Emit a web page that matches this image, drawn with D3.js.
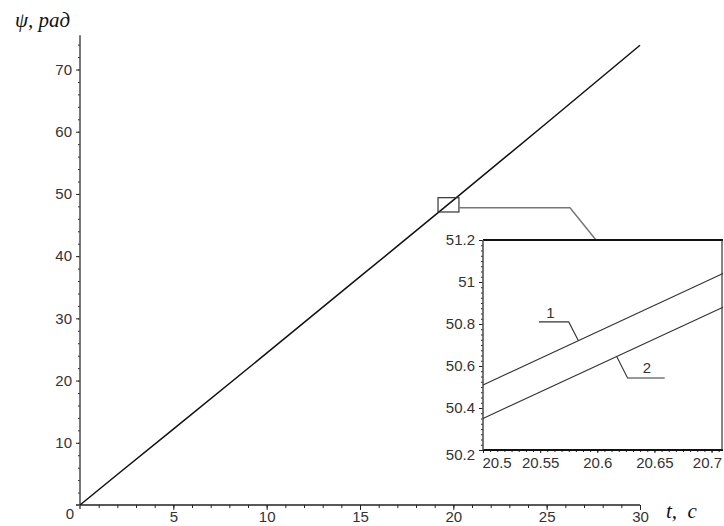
<!DOCTYPE html>
<html lang="en">
<head>
    <meta charset="UTF-8">
    <script src="https://d3js.org/d3.v7.min.js"></script>
    <style>
        body { margin: 0; background: #fff; }
        .tick text, .lbl { font-family: Arial, "Liberation Sans", sans-serif; font-size: 15px; fill: #333; }
        .ttl { font-family: "Liberation Serif", "DejaVu Serif", serif; font-style: italic; font-size: 21px; fill: #111; }
    </style>
</head>
<body>
<div id="chart"></div>
<script>
// main curve psi(t)
var tMain = [0, 2, 5, 10, 15, 17, 20, 25, 30];
var psiMain = [0, 4.9, 12.2, 24.4, 36.7, 41.6, 49.0, 61.4, 73.9];

// zoomed window, curves 1 and 2
var tZoom = [20.5, 20.71];
var psi1 = [50.51, 51.04];
var psi2 = [50.35, 50.88];

var xTicks = [5, 10, 15, 20, 25, 30];
var yTicks = [10, 20, 30, 40, 50, 60, 70];
var zxTicks = [20.5, 20.55, 20.6, 20.65, 20.7];
var zyTicks = [50.2, 50.4, 50.6, 50.8, 51, 51.2];

// marked region on main curve
var boxT = [19.18, 20.3];
var boxPsi = [47.1, 49.4];

var width = 724, height = 526;

var svg = d3.select("#chart").append("svg")
    .attr("width", width)
    .attr("height", height);

var x = d3.scaleLinear().domain([0, 30]).range([80, 640]);
var y = d3.scaleLinear().domain([0, 75.5]).range([505, 35.3]);

// helper: minor + major ticks in separate groups
function ticksOn(g, axisFn, scale, minor, major, minSize, majSize, pad, fmt) {
    g.append("g").call(axisFn(scale).tickValues(minor).tickSize(minSize).tickFormat(""));
    var gM = g.append("g").call(axisFn(scale).tickValues(major).tickSize(majSize).tickPadding(pad).tickFormat(fmt));
    g.selectAll(".domain").remove();
    g.selectAll(".tick line").attr("stroke", "#222");
    return gM;
}

// axes
var xAxis = svg.append("g").attr("transform", "translate(0," + y(0) + ")");
ticksOn(xAxis, d3.axisBottom, x, d3.range(1, 30, 1), xTicks, 3, 5, 1, d3.format("d"));
xAxis.append("line").attr("x1", x(0) - 4).attr("x2", x(30)).attr("stroke", "#222").attr("stroke-width", 1.6);

var yAxis = svg.append("g").attr("transform", "translate(" + x(0) + ",0)");
ticksOn(yAxis, d3.axisLeft, y, d3.range(2, 76, 2), yTicks, 2, 4, 4, d3.format("d"));
yAxis.append("line").attr("y1", y(0) + 4).attr("y2", y(75.5)).attr("stroke", "#555").attr("stroke-width", 1.6);

svg.append("text").attr("class", "lbl")
    .attr("x", x(0) - 6).attr("y", y(0) + 14).attr("text-anchor", "end")
    .text("0");

// main curve
var line = d3.line().x(function (d) { return x(d[0]); }).y(function (d) { return y(d[1]); });
svg.append("path")
    .datum(d3.zip(tMain, psiMain))
    .attr("d", line)
    .attr("fill", "none")
    .attr("stroke", "#111")
    .attr("stroke-width", 1.5);

// box on the curve
svg.append("rect")
    .attr("x", x(boxT[0])).attr("y", y(boxPsi[1]))
    .attr("width", x(boxT[1]) - x(boxT[0]))
    .attr("height", y(boxPsi[0]) - y(boxPsi[1]))
    .attr("fill", "none").attr("stroke", "#333").attr("stroke-width", 1.2);

// inset
var zx = d3.scaleLinear().domain([20.5, 20.71]).range([483, 723]);
var zy = d3.scaleLinear().domain([50.2, 51.2]).range([450, 240]);

// connector
var cy = (y(boxPsi[0]) + y(boxPsi[1])) / 2 + 3;
svg.append("path")
    .attr("d", "M" + x(boxT[1]) + "," + cy + "H570L" + 596 + "," + zy(51.2))
    .attr("fill", "none").attr("stroke", "#777").attr("stroke-width", 1.5);

var inset = svg.append("g");
inset.append("rect")
    .attr("x", zx(20.5)).attr("y", zy(51.2))
    .attr("width", zx(20.71) - zx(20.5)).attr("height", zy(50.2) - zy(51.2))
    .attr("fill", "#fff").attr("stroke", "none");

var fmtZ = function (d) { return d3.format("")(+d.toFixed(2)); };

var zxAxis = inset.append("g").attr("transform", "translate(0," + zy(50.2) + ")");
var zxM = ticksOn(zxAxis, d3.axisBottom, zx, d3.range(20.50625, 20.71, 0.00625), zxTicks, 2, 3, 4, fmtZ);
zxM.selectAll(".tick text").filter(function (d) { return d === 20.5; }).attr("text-anchor", "start").attr("dx", -1);
zxM.selectAll(".tick text").filter(function (d) { return d === 20.7; }).attr("text-anchor", "end").attr("dx", 10);

var zyAxis = inset.append("g").attr("transform", "translate(" + zx(20.5) + ",0)");
var zyM = ticksOn(zyAxis, d3.axisLeft, zy, d3.range(50.225, 51.2, 0.025), zyTicks, 2, 4, 4, fmtZ);
zyM.selectAll(".tick text").filter(function (d) { return d === 50.2; }).attr("dy", "0.6em");

// frame
inset.append("line").attr("x1", zx(20.5)).attr("x2", zx(20.71)).attr("y1", zy(51.2)).attr("y2", zy(51.2))
    .attr("stroke", "#111").attr("stroke-width", 2);
inset.append("line").attr("x1", zx(20.5)).attr("x2", zx(20.71)).attr("y1", zy(50.2)).attr("y2", zy(50.2))
    .attr("stroke", "#111").attr("stroke-width", 2);
inset.append("line").attr("x1", zx(20.5)).attr("x2", zx(20.5)).attr("y1", zy(51.2)).attr("y2", zy(50.2))
    .attr("stroke", "#555").attr("stroke-width", 1.6);
inset.append("line").attr("x1", zx(20.71) - 1).attr("x2", zx(20.71) - 1).attr("y1", zy(51.2)).attr("y2", zy(50.2))
    .attr("stroke", "#333").attr("stroke-width", 1.2);

var zline = d3.line().x(function (d) { return zx(d[0]); }).y(function (d) { return zy(d[1]); });
[psi1, psi2].forEach(function (s) {
    inset.append("path")
        .datum(d3.zip(tZoom, s))
        .attr("d", zline)
        .attr("fill", "none").attr("stroke", "#333").attr("stroke-width", 1.1);
});

// curve labels with leaders
var lead1 = [[20.549, 50.81], [20.575, 50.81], [20.5835, 50.72]];
var lead2 = [[20.617, 50.645], [20.6265, 50.543], [20.659, 50.543]];
[lead1, lead2].forEach(function (p) {
    inset.append("path").attr("d", zline(p))
        .attr("fill", "none").attr("stroke", "#333").attr("stroke-width", 1.1);
});
inset.append("text").attr("class", "lbl").attr("x", zx(20.559)).attr("y", zy(50.83)).attr("text-anchor", "middle").text("1");
inset.append("text").attr("class", "lbl").attr("x", zx(20.6435)).attr("y", zy(50.567)).attr("text-anchor", "middle").text("2");

// axis titles
svg.append("text").attr("class", "ttl").attr("x", 15).attr("y", 27).text("ψ, рад");
svg.append("text").attr("class", "ttl").attr("x", 666).attr("y", 518).attr("xml:space", "preserve").text("t,  c");
</script>
</body>
</html>
